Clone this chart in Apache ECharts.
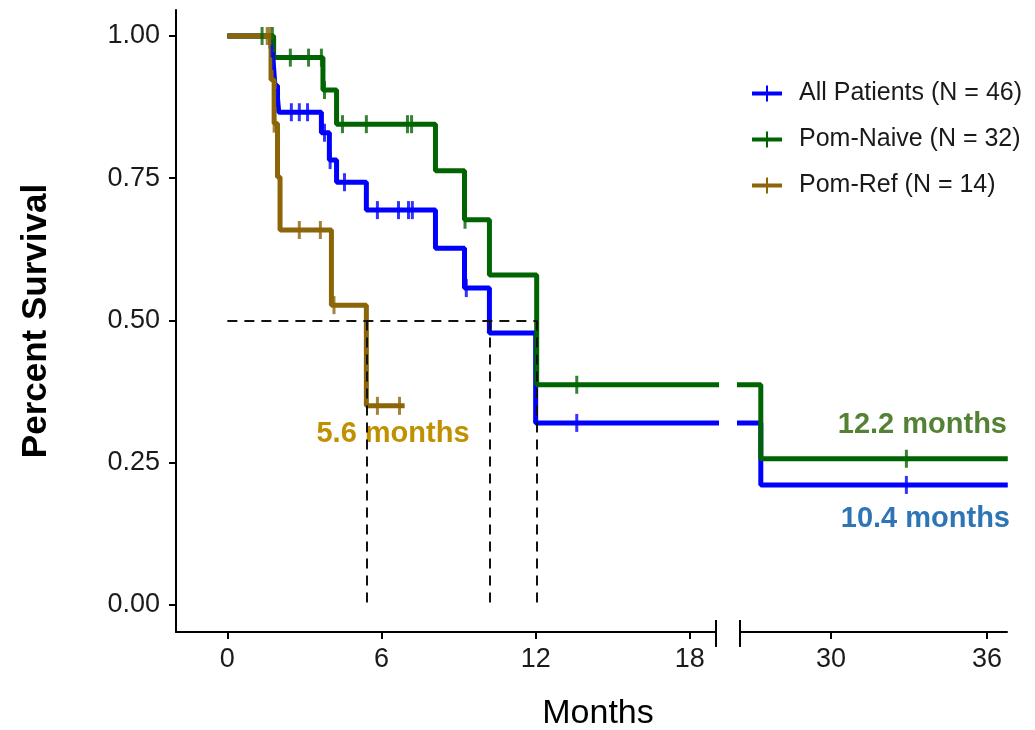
<!DOCTYPE html>
<html>
<head>
<meta charset="utf-8">
<script src="https://cdn.jsdelivr.net/npm/echarts@6/dist/echarts.min.js"></script>
<style>
  html, body { margin: 0; padding: 0; background: #fff; }
  #main { width: 1035px; height: 730px; }
</style>
</head>
<body>
<div id="main"></div>
<script>
// KM curves: step times (months) and survival after each step
var allTimes  = [0, 1.70, 1.78, 1.85, 1.95, 2.00, 3.66, 3.97, 4.25, 5.41, 8.10, 9.23, 10.20, 12.00, 27.30, 36.80];
var allSurv   = [1, 0.978, 0.956, 0.913, 0.891, 0.866, 0.830, 0.782, 0.743, 0.694, 0.627, 0.557, 0.478, 0.320, 0.211, 0.211];
var allCensT  = [1.74, 1.80, 1.95, 2.49, 2.80, 3.12, 3.78, 4.00, 4.56, 5.84, 6.66, 7.05, 7.20, 9.30, 13.60, 32.90];
var allCensS  = [0.978, 0.956, 0.891, 0.866, 0.866, 0.866, 0.830, 0.782, 0.743, 0.694, 0.694, 0.694, 0.694, 0.557, 0.320, 0.211];

var naiveTimes = [0, 1.80, 3.72, 4.25, 8.10, 9.23, 10.20, 12.04, 27.30, 36.80];
var naiveSurv  = [1, 0.962, 0.905, 0.845, 0.763, 0.677, 0.580, 0.387, 0.257, 0.257];
var naiveCensT = [1.35, 1.75, 2.45, 3.16, 3.66, 3.78, 4.48, 5.41, 7.01, 7.17, 9.25, 13.60, 32.90];
var naiveCensS = [1, 1, 0.962, 0.962, 0.962, 0.905, 0.845, 0.845, 0.845, 0.845, 0.677, 0.387, 0.257];

var refTimes = [0, 1.70, 1.82, 1.95, 2.05, 4.05, 5.41, 6.90];
var refSurv  = [1, 0.923, 0.846, 0.752, 0.659, 0.527, 0.350, 0.350];
var refCensT = [1.55, 1.65, 1.82, 2.80, 3.62, 4.15, 5.84, 6.70];
var refCensS = [1, 1, 0.846, 0.659, 0.659, 0.527, 0.350, 0.350];

var seriesNames = ['All Patients (N = 46)', 'Pom-Naive (N = 32)', 'Pom-Ref (N = 14)'];
var colors = ['#0000ff', '#006400', '#8b6508'];

// median survival guides
var medianTimes = [5.41, 10.2, 12.04];
var yTicks = [0, 0.25, 0.5, 0.75, 1];
var xTicksLeft = [0, 6, 12, 18];
var xTicksRight = [30, 36];

function pairs(xs, ys) {
  return xs.map(function (x, i) { return [x, ys[i]]; });
}

var curves = [
  pairs(allTimes, allSurv),
  pairs(naiveTimes, naiveSurv),
  pairs(refTimes, refSurv)
];
var censors = [
  pairs(allCensT, allCensS),
  pairs(naiveCensT, naiveCensS),
  pairs(refCensT, refCensS)
];

var FONT = '"Liberation Sans", Arial, sans-serif';
var plusIcon = 'path://M0,6 H14 V0 H16 V6 H30 V10 H16 V16 H14 V10 H0 Z';

var myChart = echarts.init(document.getElementById('main'));

function xAxisCfg(idx, min, max, ticks) {
  return {
    type: 'value', gridIndex: idx, min: min, max: max,
    splitLine: { show: false },
    axisLine: { onZero: false, lineStyle: { color: '#000', width: 2 } },
    axisTick: { length: 7, lineStyle: { color: '#000', width: 2 }, customValues: ticks },
    axisLabel: { customValues: ticks, color: '#1a1a1a', fontSize: 27, fontFamily: FONT, margin: 14 }
  };
}

function yAxisCfg(idx, show) {
  return {
    type: 'value', gridIndex: idx, min: -0.0475, max: 1.0457, show: show,
    splitLine: { show: false },
    axisLine: { show: true, onZero: false, lineStyle: { color: '#000', width: 2 } },
    axisTick: { length: 7, lineStyle: { color: '#000', width: 2 }, customValues: yTicks },
    axisLabel: {
      customValues: yTicks, color: '#1a1a1a', fontSize: 27, fontFamily: FONT, margin: 16,
      formatter: function (v) { return v.toFixed(2); }
    },
    name: show ? 'Percent Survival' : '',
    nameLocation: 'middle', nameGap: 122, nameRotate: 90,
    nameTextStyle: { fontSize: 35, fontWeight: 'bold', color: '#000', fontFamily: FONT }
  };
}

var series = [];
[0, 1].forEach(function (g) {
  curves.forEach(function (c, i) {
    series.push({
      name: seriesNames[i], type: 'line', step: 'end',
      xAxisIndex: g, yAxisIndex: g, data: c,
      showSymbol: false, symbol: 'none', clip: true,
      lineStyle: { color: colors[i], width: 5 },
      itemStyle: { color: colors[i] },
      z: 2 + i, silent: true
    });
  });
  censors.forEach(function (c, i) {
    series.push({
      name: seriesNames[i] + ' censor', type: 'scatter',
      xAxisIndex: g, yAxisIndex: g, data: c,
      symbol: 'rect', symbolSize: [3, 18], clip: true,
      itemStyle: { color: colors[i] },
      z: 5 + i, silent: true
    });
  });
});

// dashed median guides
var medLines = [[{ coord: [0, 0.5] }, { coord: [medianTimes[2], 0.5] }]];
medianTimes.forEach(function (t) {
  medLines.push([{ coord: [t, 0.5] }, { coord: [t, 0] }]);
});
series.push({
  type: 'line', xAxisIndex: 0, yAxisIndex: 0, data: [], z: 10,
  markLine: {
    silent: true, symbol: 'none', label: { show: false },
    lineStyle: { color: '#111', width: 2, type: [10, 7] },
    data: medLines
  }
});

var option = {
  backgroundColor: '#fff',
  animation: false,
  grid: [
    { left: 176, top: 10, width: 540, height: 622, outerBoundsMode: 'none' },
    { left: 740, top: 10, width: 267, height: 622, outerBoundsMode: 'none' }
  ],
  xAxis: [
    xAxisCfg(0, -2, 19.02, xTicksLeft),
    xAxisCfg(1, 26.5, 36.77, xTicksRight)
  ],
  yAxis: [yAxisCfg(0, true), yAxisCfg(1, false)],
  legend: {
    data: seriesNames.map(function (n) { return { name: n, icon: plusIcon }; }),
    orient: 'vertical', left: 747, top: 76,
    itemWidth: 34, itemHeight: 16, itemGap: 21,
    textStyle: { fontSize: 25, color: '#1a1a1a', fontFamily: FONT, padding: [0, 0, 0, 10] }
  },
  graphic: [
    // axis break marks
    { type: 'line', shape: { x1: 716, y1: 620, x2: 716, y2: 647 }, style: { stroke: '#000', lineWidth: 2 } },
    { type: 'line', shape: { x1: 740, y1: 620, x2: 740, y2: 647 }, style: { stroke: '#000', lineWidth: 2 } },
    { type: 'text', x: 598, y: 714, style: { text: 'Months', fill: '#000', font: '34px ' + FONT, align: 'center', verticalAlign: 'middle' } },
    { type: 'text', x: 393, y: 434, style: { text: '5.6 months', fill: '#bf9000', font: 'bold 29px ' + FONT, align: 'center', verticalAlign: 'middle' } },
    { type: 'text', x: 1007, y: 425, style: { text: '12.2 months', fill: '#548235', font: 'bold 29px ' + FONT, align: 'right', verticalAlign: 'middle' } },
    { type: 'text', x: 1010, y: 519, style: { text: '10.4 months', fill: '#2e75b6', font: 'bold 29px ' + FONT, align: 'right', verticalAlign: 'middle' } }
  ],
  series: series
};

myChart.setOption(option);
</script>
</body>
</html>
